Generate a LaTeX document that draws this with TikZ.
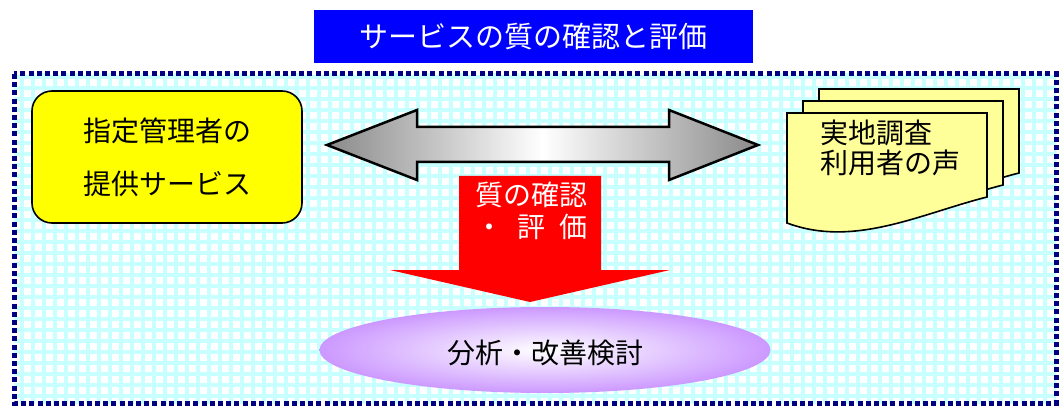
\documentclass[tikz,border=0pt]{standalone}
\usepackage{fontspec}
\newfontfamily\jp{Noto Sans CJK JP}
\usetikzlibrary{shapes.geometric}
\definecolor{titleblue}{RGB}{0,0,255}
\definecolor{bordernavy}{RGB}{0,0,128}
\definecolor{gridcyan}{RGB}{200,255,255}
\definecolor{boxyellow}{RGB}{255,255,0}
\definecolor{docyellow}{RGB}{255,255,153}
\definecolor{arrowred}{RGB}{255,0,0}
\definecolor{lav}{RGB}{204,153,255}
\pgfdeclarehorizontalshading{dblshade}{100bp}{color(0bp)=(black!90); color(20bp)=(black!55); color(50bp)=(white); color(80bp)=(black!55); color(100bp)=(black!90)}
\tikzset{
  jptext/.style={font=\jp\fontsize{28}{30}\selectfont, inner sep=0pt},
  titlebox/.style={fill=titleblue, text=white, minimum width=439pt, minimum height=53pt, inner sep=0pt, font=\jp\fontsize{29}{31}\selectfont},
  framebox/.style={draw=bordernavy, line width=5pt, dash pattern=on 5pt off 3.2pt},
  gridline/.style={draw=gridcyan, line width=3.5pt},
  provbox/.style={draw=black, line width=1.6pt, fill=boxyellow, rounded corners=20pt, minimum width=270pt, minimum height=132pt, align=center, jptext, font=\jp\fontsize{28}{53}\selectfont},
  docsheet/.style={draw=black, line width=1.6pt, fill=docyellow},
  dblarrow/.style={draw=black, line width=2.5pt, line join=miter, shading=dblshade},
  redarrow/.style={fill=arrowred},
  ellbox/.style={ellipse, minimum width=451pt, minimum height=86pt, inner color=white, outer color=lav, inner sep=0pt}
}
\begin{document}
\begin{tikzpicture}[x=1pt,y=-1pt]
\useasboundingbox (0,0) rectangle (1059,406);
\fill[white] (0,0) rectangle (1059,406);
% framed grid background
\coordinate (fr1) at (14,74);
\coordinate (fr2) at (1056,403);
\begin{scope}
  \clip (fr1) rectangle (fr2);
  \draw[gridline] (9,69) grid[xstep=11pt, ystep=11pt] (1060,410);
\end{scope}
\draw[framebox] (fr1) rectangle (fr2);
% title
\node[titlebox] (title) at (533.5,36.5) {サービスの質の確認と評価};
% provider box
\node[provbox] (prov) at (167,157) {指定管理者の\\提供サービス};
% double arrow
\draw[dblarrow] (327,145) -- (417,110) -- (417,127) -- (669,127) -- (669,110) -- (758,145) -- (669,180) -- (669,162) -- (417,162) -- (417,180) -- cycle;
% document stack
\foreach \dx/\dy in {32/-24,16/-12,0/0}{
  \begin{scope}[shift={(\dx,\dy)}]
    \draw[docsheet] (787,113) -- (987,113) -- (987,197) .. controls (920,214) and (854,248) .. (787,223) -- cycle;
  \end{scope}
}
\node[jptext, align=left, anchor=west] (doc) at (820,147.5) {実地調査\\利用者の声};
% red arrow
\fill[redarrow] (459,176) -- (601,176) -- (601,270) -- (670,270) -- (530,302) -- (390,270) -- (459,270) -- cycle;
\node[jptext, text=white, align=center, font=\jp\fontsize{28}{32}\selectfont] (check) at (531,211) {質の確認\\・\hspace{0.5em}評\hspace{0.5em}価};
% ellipse
\node[ellbox] (anal) at (545,350) {};
\node[jptext] (analtext) at (545,353) {分析・改善検討};
\end{tikzpicture}
\end{document}
